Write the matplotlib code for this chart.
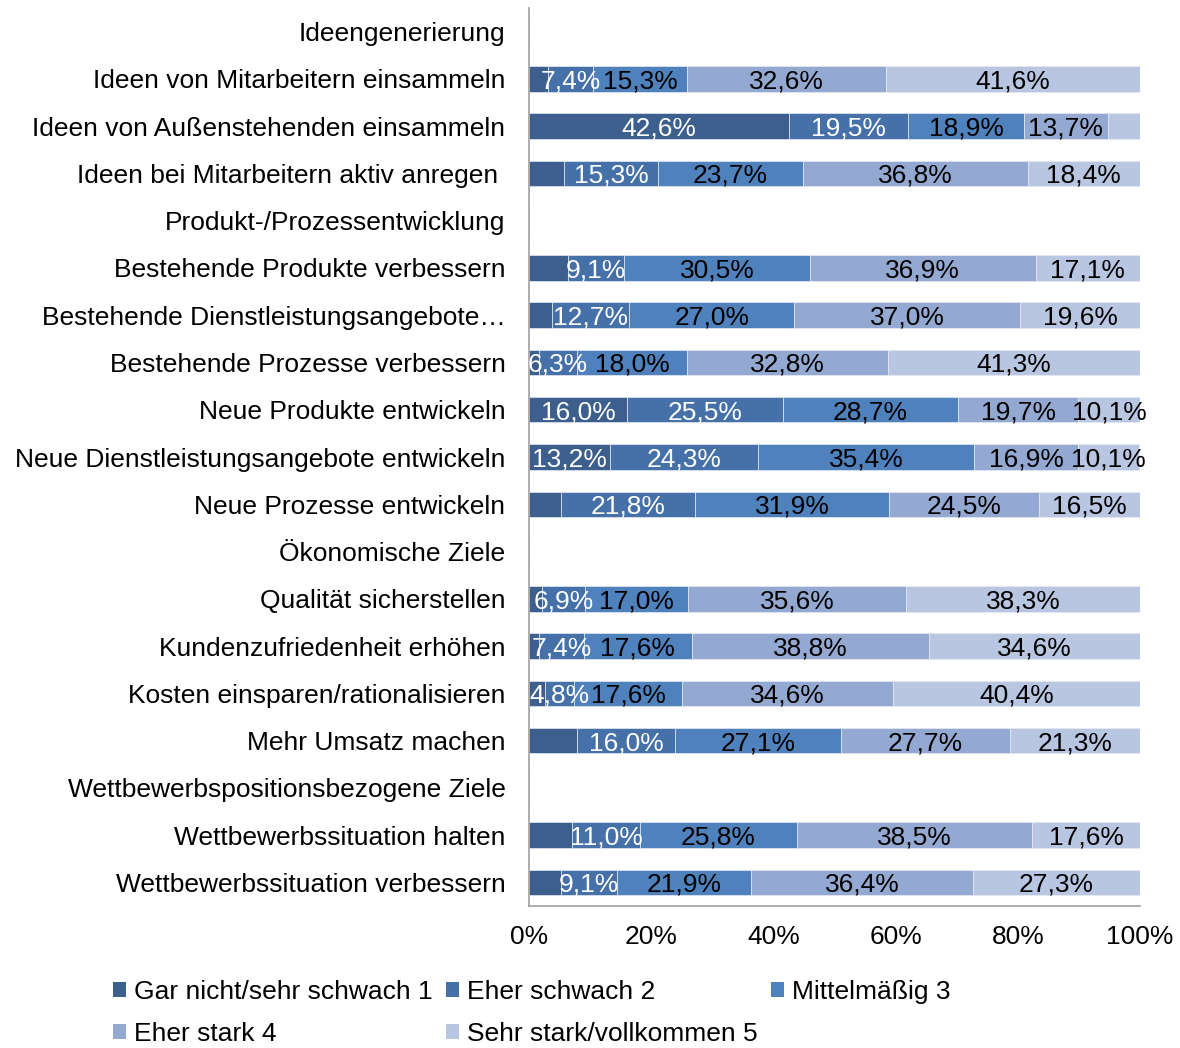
import numpy as np
import matplotlib
matplotlib.use("Agg")
import matplotlib.pyplot as plt
from matplotlib.patches import Patch

plt.rcParams['font.family'] = ['Liberation Sans', 'DejaVu Sans']

# categories top to bottom (headers have no bar)
categories = [
    "Ideengenerierung",
    "Ideen von Mitarbeitern einsammeln",
    "Ideen von Außenstehenden einsammeln",
    "Ideen bei Mitarbeitern aktiv anregen ",
    "Produkt-/Prozessentwicklung",
    "Bestehende Produkte verbessern",
    "Bestehende Dienstleistungsangebote…",
    "Bestehende Prozesse verbessern",
    "Neue Produkte entwickeln",
    "Neue Dienstleistungsangebote entwickeln",
    "Neue Prozesse entwickeln",
    "Ökonomische Ziele",
    "Qualität sicherstellen",
    "Kundenzufriedenheit erhöhen",
    "Kosten einsparen/rationalisieren",
    "Mehr Umsatz machen",
    "Wettbewerbspositionsbezogene Ziele",
    "Wettbewerbssituation halten",
    "Wettbewerbssituation verbessern",
]
series_names = ["Gar nicht/sehr schwach 1", "Eher schwach 2", "Mittelmäßig 3",
                "Eher stark 4", "Sehr stark/vollkommen 5"]

# percentages per series (0 for header rows)
s1 = [0, 3.1, 42.6, 5.8, 0, 6.4, 3.7, 1.6, 16.0, 13.2, 5.3, 0, 2.2, 1.6, 2.6, 7.9, 0, 7.1, 5.3]
s2 = [0, 7.4, 19.5, 15.3, 0, 9.1, 12.7, 6.3, 25.5, 24.3, 21.8, 0, 6.9, 7.4, 4.8, 16.0, 0, 11.0, 9.1]
s3 = [0, 15.3, 18.9, 23.7, 0, 30.5, 27.0, 18.0, 28.7, 35.4, 31.9, 0, 17.0, 17.6, 17.6, 27.1, 0, 25.8, 21.9]
s4 = [0, 32.6, 13.7, 36.8, 0, 36.9, 37.0, 32.8, 19.7, 16.9, 24.5, 0, 35.6, 38.8, 34.6, 27.7, 0, 38.5, 36.4]
s5 = [0, 41.6, 5.3, 18.4, 0, 17.1, 19.6, 41.3, 10.1, 10.1, 16.5, 0, 38.3, 34.6, 40.4, 21.3, 0, 17.6, 27.3]

# data labels the original leaves out (row, series)
hidden_labels = {(1, 0), (2, 4), (3, 0), (5, 0), (6, 0), (7, 0), (10, 0), (12, 0),
                 (13, 0), (14, 0), (15, 0), (17, 0), (18, 0)}

colors = ["#3C5F8D", "#4571A8", "#4F81BD", "#94A9D1", "#B9C6E1"]
label_colors = ["white", "white", "black", "black", "black"]

fig = plt.figure(figsize=(11.8, 10.48), dpi=100)
ax = fig.add_axes([529 / 1180, 1 - 906 / 1048, 611 / 1180, 898 / 1048])

data = np.array([s1, s2, s3, s4, s5])
y = np.arange(len(categories))
left = np.zeros(len(categories))
for i, vals in enumerate(data):
    ax.barh(y, vals, left=left, height=0.54, color=colors[i],
            edgecolor="#E6EAF2", linewidth=0.5, label=series_names[i])
    for r, v in enumerate(vals):
        if v > 0 and (r, i) not in hidden_labels:
            ax.text(left[r] + v / 2, r, f"{v:.1f}%".replace(".", ","),
                    ha="center", va="center_baseline", fontsize=19,
                    color=label_colors[i], zorder=5)
    left += vals

ax.set_xlim(0, 100)
ax.set_ylim(len(categories) - 0.5, -0.5)
ax.set_yticks(y)
ax.set_yticklabels(categories, fontsize=19)
ax.set_xticks(np.arange(0, 101, 20))
ax.set_xticklabels([f"{t}%" for t in range(0, 101, 20)], fontsize=19)
ax.tick_params(axis="y", length=0, pad=17)
ax.tick_params(axis="x", length=0, pad=14)
for s in ["top", "right"]:
    ax.spines[s].set_visible(False)
for s in ["left", "bottom"]:
    ax.spines[s].set_color("#A0A0A0")
    ax.spines[s].set_linewidth(1.2)

handles = [Patch(facecolor=c, edgecolor="none") for c in colors]
order = [0, 3, 1, 4, 2]
fig.legend([handles[k] for k in order], [series_names[k] for k in order],
           loc="upper left", bbox_to_anchor=(113 / 1180, 1 - 980 / 1048),
           ncol=3, frameon=False, fontsize=19, borderpad=0,
           handlelength=0.5, handleheight=0.5, handletextpad=0.3,
           columnspacing=0.5, labelspacing=0.68, borderaxespad=0)

fig.savefig("out.png", dpi=100)
